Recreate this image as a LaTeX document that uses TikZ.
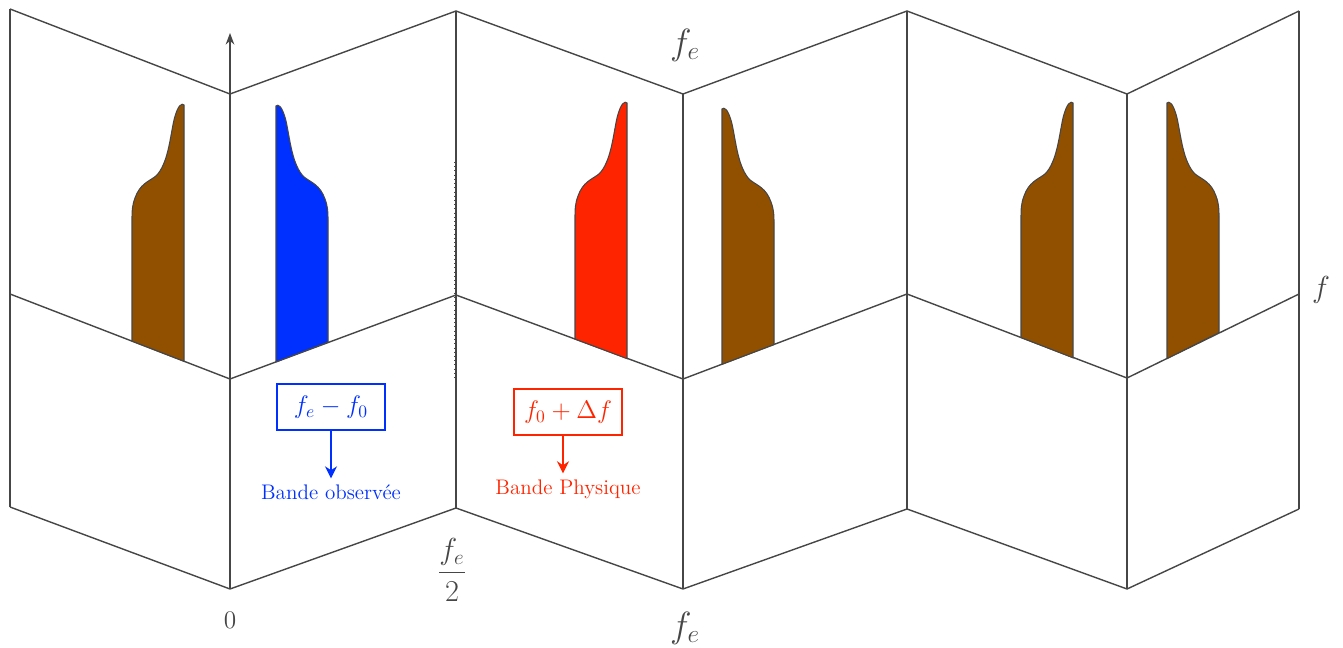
\documentclass[tikz,border=0pt]{standalone}
\usepackage{amsmath}
\usetikzlibrary{arrows.meta}

\definecolor{brun}{RGB}{145,80,0}
\definecolor{bleu}{RGB}{0,48,255}
\definecolor{rouge}{RGB}{255,36,0}
\definecolor{trait}{RGB}{70,70,70}

% bande avec le pic a droite : couleur, x gauche, y haut, y bas gauche, y bas droite
\newcommand{\bandeD}[5]{%
  \fill[#1, raie] (#2+52,#5) -- (#2+52,#3+1)
    .. controls (#2+50,#3-1) and (#2+46,#3) .. (#2+42,#3+16)
    .. controls (#2+38,#3+34) and (#2+36,#3+60) .. (#2+24,#3+72)
    .. controls (#2+16,#3+78) and (#2+8,#3+80) .. (#2+3,#3+94)
    .. controls (#2,#3+102) and (#2,#3+108) .. (#2,#3+115)
    -- (#2,#4) -- cycle;}
% bande avec le pic a gauche
\newcommand{\bandeG}[5]{%
  \fill[#1, raie] (#2,#4) -- (#2,#3+1)
    .. controls (#2+2,#3-1) and (#2+6,#3) .. (#2+10,#3+16)
    .. controls (#2+14,#3+34) and (#2+16,#3+60) .. (#2+28,#3+72)
    .. controls (#2+36,#3+78) and (#2+44,#3+80) .. (#2+49,#3+94)
    .. controls (#2+52,#3+102) and (#2+52,#3+108) .. (#2+52,#3+115)
    -- (#2+52,#5) -- cycle;}

\begin{document}
\begin{tikzpicture}[x=0.02cm, y=-0.02cm, >=Stealth,
    pli/.style={draw=trait, line width=0.8pt},
    raie/.style={draw=trait, line width=0.6pt},
    cadre/.style={draw, line width=1.2pt, minimum width=2.15cm, minimum height=0.93cm, font=\Large},
    fleche/.style={-{Stealth[length=2.4mm, width=2.4mm]}, line width=1.2pt},
    legende/.style={font=\large}]
  \useasboundingbox (0,0) rectangle (1343,648);

  % la feuille pliee
  \draw[pli] (10,9) -- (230,94) -- (456,11) -- (683,94) -- (907,11) -- (1127,94) -- (1299,11);
  \draw[pli] (10,294) -- (230,379) -- (456,295) -- (683,379) -- (907,294) -- (1127,378) -- (1299,294);
  \draw[pli] (10,507) -- (230,589) -- (456,508) -- (683,589) -- (907,509) -- (1127,589) -- (1299,509);
  \foreach \x/\a/\b in {10/9/507, 230/94/589, 456/11/508, 683/94/589, 907/11/509, 1127/94/589, 1299/11/509}
    \draw[pli] (\x,\a) -- (\x,\b);
  \draw[trait, dotted, thin] (454,162) -- (454,378);
  \draw[pli, ->] (230,395) -- (230,33);

  % les bandes
  \bandeD{brun}{132}{104}{341.1}{361.2}
  \bandeG{bleu}{276}{105}{361.9}{342.2}
  \bandeD{rouge}{575}{102}{339.0}{358.6}
  \bandeG{brun}{722}{108}{364.2}{344.5}
  \bandeD{brun}{1021}{102}{337.5}{357.8}
  \bandeG{brun}{1167}{102}{358.5}{332.6}

  % graduations
  \node[text=trait, font=\huge] (fehaut) at (685,45) {$f_e$};
  \node[text=trait, font=\huge] (febas) at (685,628) {$f_e$};
  \node[text=trait, font=\LARGE] (femoit) at (452,570) {$\dfrac{f_e}{2}$};
  \node[text=trait, font=\Large] (zero) at (230,620) {$0$};
  \node[text=trait, font=\LARGE] (freq) at (1321,290) {$f$};

  % legendes
  \node[cadre, draw=bleu, text=bleu] (obs) at (331,407) {$f_e - f_0$};
  \node[legende, text=bleu] (tobs) at (331,492) {Bande observée};
  \draw[fleche, bleu] (obs.south) -- (tobs.north);
  \node[cadre, draw=rouge, text=rouge] (phys) at (568,412) {$f_0 + \Delta f$};
  \node[legende, text=rouge] (tphys) at (568,489) {Bande Physique};
  \draw[fleche, rouge] ([xshift=-0.1cm]phys.south) -- ([xshift=-0.1cm]tphys.north);
\end{tikzpicture}
\end{document}
